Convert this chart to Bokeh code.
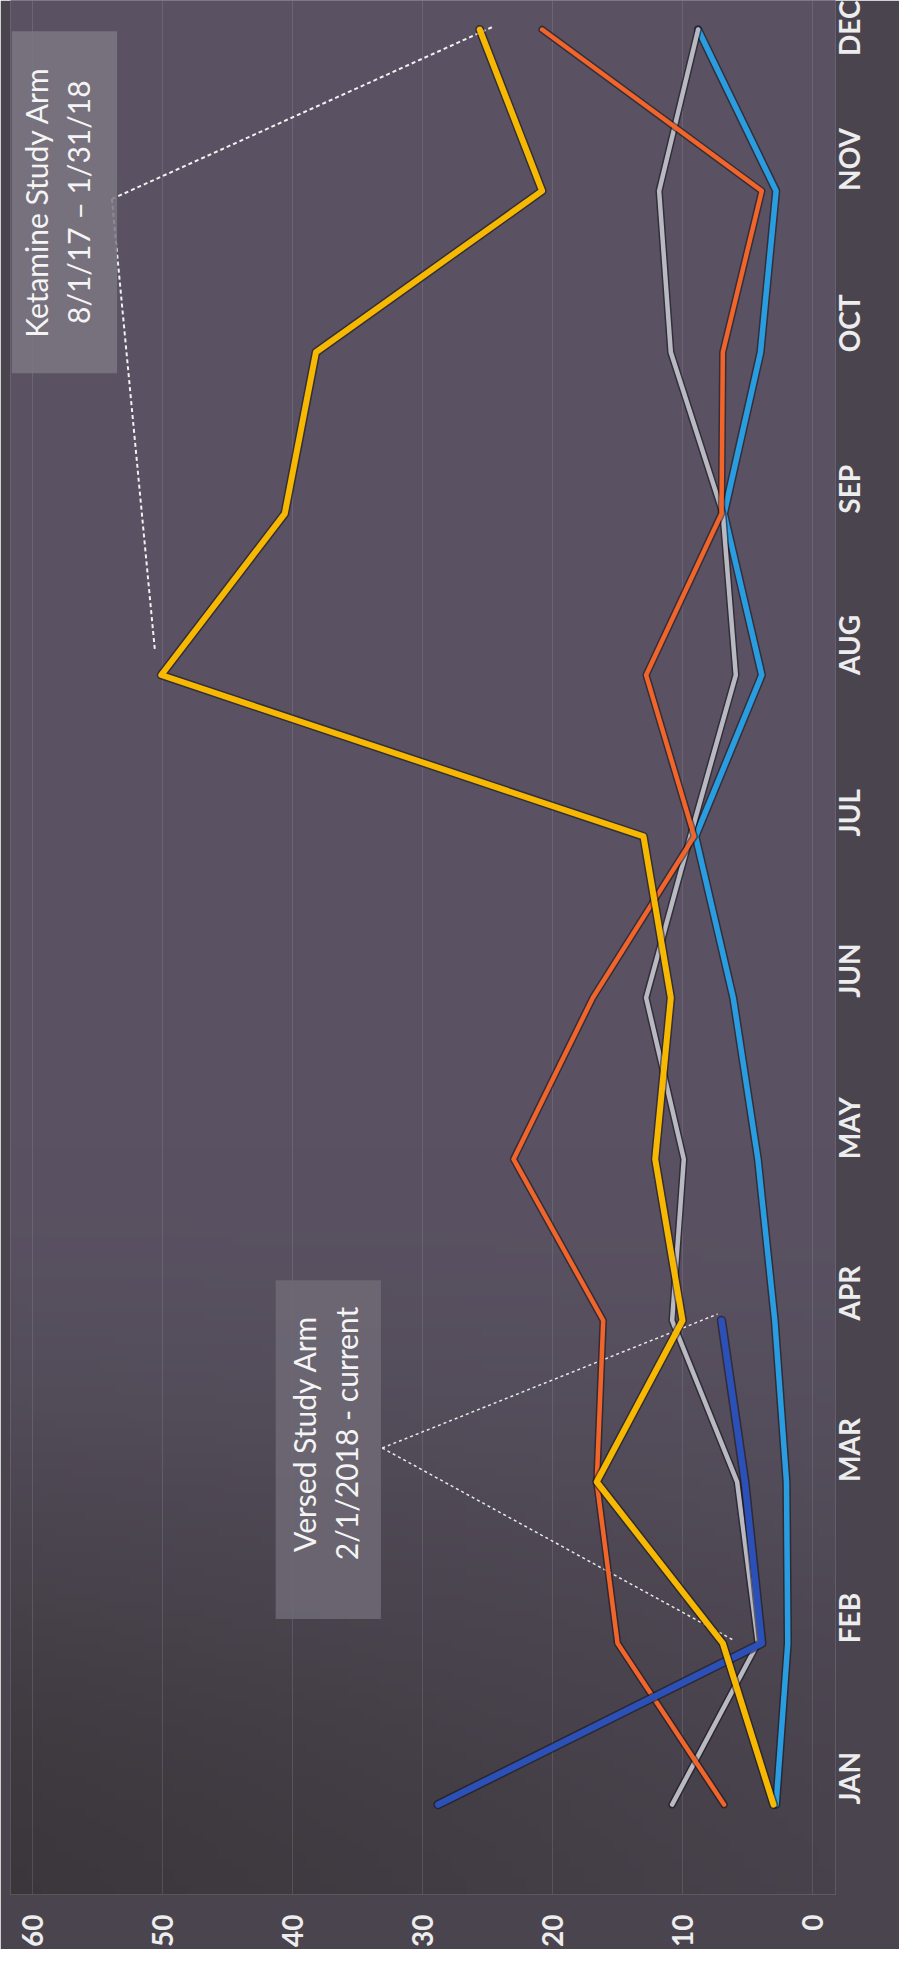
import math
import numpy as np
from bokeh.plotting import figure
from bokeh.models import Range1d, FixedTicker, BoxAnnotation, Label
from bokeh.embed import file_html
from bokeh.resources import INLINE

months = ["JAN", "FEB", "MAR", "APR", "MAY", "JUN", "JUL", "AUG", "SEP", "OCT", "NOV", "DEC"]
value_ticks = [0, 10, 20, 30, 40, 50, 60]

light_blue = [2.8, 1.9, 2.0, 2.9, 4.2, 6.1, 9.0, 3.9, 6.8, 4.0, 2.8, 8.8]
gray = [10.8, 4.2, 5.8, 10.8, 9.9, 12.8, 9.4, 5.9, 6.9, 10.9, 11.8, 8.8]
orange = [6.8, 15.0, 16.6, 16.1, 23.0, 16.9, 9.1, 12.8, 7.0, 6.9, 3.9, 20.8]
yellow = [3.0, 6.9, 16.6, 10.0, 12.1, 10.9, 13.0, 50.1, 40.6, 38.2, 20.8, 25.6]
dark_blue = [28.8, 3.9, 5.2, 7.0]

month_idx = list(range(len(months)))

X0, X1 = -1.77, 61.7
Y0, Y1 = -0.557, 11.18

BG = "#4a444f"
p = figure(width=899, height=1949, output_backend="svg", toolbar_location=None,
           x_range=Range1d(X1, X0), y_range=Range1d(Y0, Y1),
           x_axis_location="below", y_axis_location="right",
           min_border_left=10, min_border_right=64, min_border_top=0, min_border_bottom=54)
p.background_fill_color = BG
p.border_fill_color = BG
p.outline_line_color = None

# background shading (darker toward the bottom left, like the scanned slide)
ny, nx = 240, 60
t = np.linspace(0, 1, ny)[:, None]          # 0 bottom -> 1 top
u = np.linspace(0, 1, nx)[None, :]          # 0 right -> 1 left
top = np.array([90, 82, 98], dtype=float)
bot_r = np.array([72, 66, 76], dtype=float)
bot_l = np.array([58, 54, 58], dtype=float)
s = np.clip(t / 0.4, 0, 1)
s = s * s * (3 - 2 * s)
bottom = bot_r[None, None, :] * (1 - u[..., None]) + bot_l[None, None, :] * u[..., None]
col = bottom * (1 - s[..., None]) + top[None, None, :] * s[..., None]
img = np.empty((ny, nx), dtype=np.uint32)
view = img.view(dtype=np.uint8).reshape((ny, nx, 4))
view[..., 0] = col[..., 0].astype(np.uint8)
view[..., 1] = col[..., 1].astype(np.uint8)
view[..., 2] = col[..., 2].astype(np.uint8)
view[..., 3] = 255
pad_x, pad_y = 2.0, 0.3
p.image_rgba(image=[img], x=X0 - pad_x, y=Y0 - pad_y, dw=X1 - X0 + 2 * pad_x,
             dh=Y1 - Y0 + 2 * pad_y, level="image")

# axes
for ax in (p.xaxis[0], p.yaxis[0]):
    ax.axis_line_color = None
    ax.major_tick_line_color = None
    ax.minor_tick_line_color = None
    ax.major_label_orientation = math.pi / 2
    ax.major_label_text_font = "Lato"
    ax.major_label_text_font_style = "bold"
    ax.major_label_text_font_size = "28px"
    ax.major_label_text_color = "#ededed"

p.xaxis[0].ticker = FixedTicker(ticks=value_ticks)
p.xaxis[0].major_label_standoff = 14
p.yaxis[0].ticker = FixedTicker(ticks=month_idx)
p.yaxis[0].major_label_overrides = {i: m for i, m in enumerate(months)}
p.yaxis[0].major_label_standoff = 8

p.xgrid.ticker = FixedTicker(ticks=value_ticks)
p.xgrid.grid_line_color = "#a8a6b8"
p.xgrid.grid_line_alpha = 0.22
p.xgrid.level = "underlay"
p.ygrid.grid_line_color = None

# annotation boxes
p.add_layout(BoxAnnotation(left=61.6, right=53.5, bottom=8.87, top=10.99,
                           fill_color="#7c7683", fill_alpha=0.85, line_color=None))
p.add_layout(BoxAnnotation(left=41.3, right=33.2, bottom=1.15, top=3.25,
                           fill_color="#6f6a76", fill_alpha=0.85, line_color=None))

# callout dashed lines
p.segment(x0=[53.9, 53.9], y0=[9.95, 9.95], x1=[24.5, 50.6], y1=[11.02, 7.16],
          line_color="#f2f2f2", line_width=2, line_dash="4 3")
p.segment(x0=[33.1, 33.1], y0=[2.21, 2.21], x1=[7.3, 6.1], y1=[3.04, 1.02],
          line_color="#e8e8e8", line_width=1.5, line_dash="3 3")

series = [
    (light_blue, "#2a9de0", 5.5),
    (gray, "#b9b9c1", 4.5),
    (orange, "#f2652a", 4.5),
    (dark_blue, "#2b50b8", 6.5),
    (yellow, "#f6b800", 6),
]
for vals, color, w in series:
    idx = month_idx[:len(vals)]
    p.line(x=vals, y=idx, line_color="#141019", line_width=w + 3, line_alpha=0.55,
           line_join="round", line_cap="round")
    p.line(x=vals, y=idx, line_color=color, line_width=w, line_join="round", line_cap="round")

lbl = dict(angle=math.pi / 2, text_align="center", text_baseline="middle",
           text_font="Lato", text_font_size="30px", text_color="#f4f4f4")
p.add_layout(Label(x=59.7, y=9.93, text="Ketamine Study Arm", **lbl))
p.add_layout(Label(x=56.5, y=9.93, text="8/1/17 \u2013 1/31/18", **lbl))
p.add_layout(Label(x=39.1, y=2.30, text="Versed Study Arm", **lbl))
p.add_layout(Label(x=35.9, y=2.30, text="2/1/2018 - current", **lbl))

open("out.html", "w").write(file_html(p, INLINE))
